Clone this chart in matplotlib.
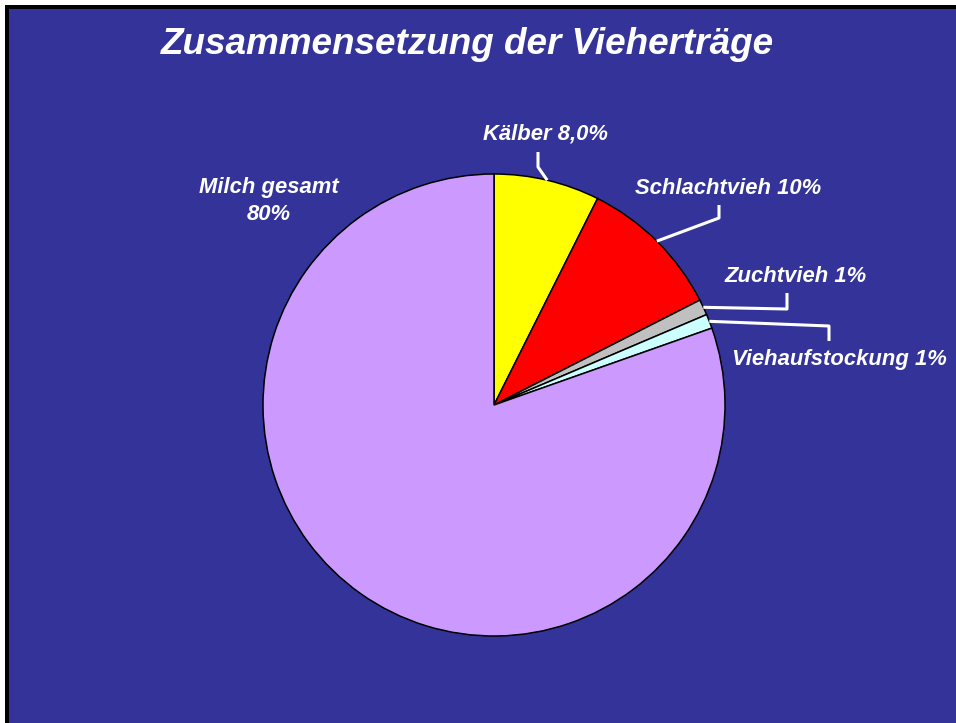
import numpy as np
import matplotlib
matplotlib.use("Agg")
import matplotlib.pyplot as plt
from matplotlib.patches import Rectangle

# ── Data ──────────────────────────────────────────────────────────────────────
CATEGORIES = ["Kälber", "Schlachtvieh", "Zuchtvieh", "Viehaufstockung", "Milch gesamt"]
VALUES = [7.4, 10.1, 1.1, 1.0, 80.4]
LABELS = ["Kälber 8,0%", "Schlachtvieh 10%", "Zuchtvieh 1%",
          "Viehaufstockung 1%", "Milch gesamt\n80%"]
COLORS = ["#FFFF00", "#FF0000", "#C0C0C0", "#CCFFFF", "#CC99FF"]
TITLE = "Zusammensetzung der Vieherträge"

# ── Layout (pixel coords, y measured from top) ────────────────────────────────
W, H = 956, 723
CX, CY, R = 494, 405, 231
BG = "#333399"
FONT = "Liberation Sans"

# label centre and leader path (label end, elbow) per slice; None = no leader
LABEL_POS = [(546, 134), (728, 188), (796, 276), (839, 359), (269, 201)]
LEADERS = [
    [(538, 152), (538, 167)],
    [(719, 205), (719, 218)],
    [(787, 293), (787, 309)],
    [(829, 341), (829, 326)],
    None,
]


def Y(y):
    return H - y


fig = plt.figure(figsize=(W / 100, H / 100), dpi=100, facecolor="white")
ax = fig.add_axes([0, 0, 1, 1])

# frame + blue background
ax.add_patch(Rectangle((5, 0), W, Y(5), facecolor="black", edgecolor="none", zorder=0))
ax.add_patch(Rectangle((9, 0), W, Y(9), facecolor=BG, edgecolor="none", zorder=0))

wedges, _ = ax.pie(VALUES, colors=COLORS, startangle=90, counterclock=False,
                   center=(CX, Y(CY)), radius=R,
                   wedgeprops=dict(edgecolor="black", linewidth=1.1))
for w in wedges:
    w.set_zorder(2)

ax.set_xlim(0, W)
ax.set_ylim(0, H)
ax.set_aspect("equal")
ax.axis("off")

ax.text(467, Y(45), TITLE, ha="center", va="center", color="white",
        fontsize=26.6, fontweight="bold", fontstyle="italic", family=FONT)

for i, w in enumerate(wedges):
    lx, ly = LABEL_POS[i]
    ax.text(lx, Y(ly), LABELS[i], ha="center", va="center", color="white",
            fontsize=15.8, fontweight="bold", fontstyle="italic", family=FONT,
            linespacing=1.35)
    if LEADERS[i] is None:
        continue
    mid = np.deg2rad((w.theta1 + w.theta2) / 2)
    ex = CX + R * np.cos(mid)
    ey = Y(CY) + R * np.sin(mid)
    (ax0, ay0), (bx, by) = LEADERS[i]
    ax.plot([ax0, bx, ex], [Y(ay0), Y(by), ey], color="white", lw=2.2,
            solid_capstyle="butt", zorder=3)

fig.savefig("out.png", dpi=100, facecolor="white")
